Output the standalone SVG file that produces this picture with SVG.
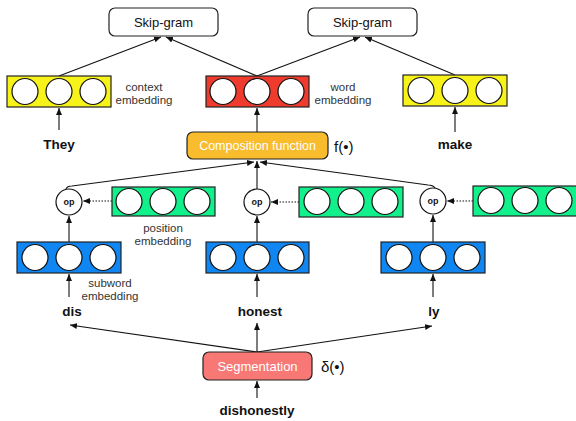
<svg xmlns="http://www.w3.org/2000/svg" width="576" height="421" viewBox="0 0 576 421">
<defs>
<style>
.box{stroke:#222;stroke-width:1.2}
.c{fill:#fff;stroke:#111;stroke-width:1.2}
.ln{stroke:#111;stroke-width:1.1;fill:none}
.dot{stroke:#111;stroke-width:1.1;fill:none;stroke-dasharray:1.5 1.5}
.t{font-family:"Liberation Sans",Arial,sans-serif;fill:#111}
.lbl{font-size:11.5px;fill:#333;text-anchor:middle}
.word{font-size:13.5px;font-weight:bold;text-anchor:middle}
.sg{font-size:13px;text-anchor:middle}
.cf{font-size:12.5px;text-anchor:middle}
.op{font-size:9px;text-anchor:middle;font-weight:bold}
</style>
<marker id="ah" markerWidth="8" markerHeight="8" refX="7" refY="4" orient="auto" markerUnits="userSpaceOnUse">
<path d="M0,1 L7,4 L0,7 z" fill="#111"/>
</marker>
<g id="vec">
<circle class="c" cx="18" cy="15.5" r="13"/>
<circle class="c" cx="52" cy="15.5" r="13"/>
<circle class="c" cx="86" cy="15.5" r="13"/>
</g>
</defs>
<rect width="576" height="421" fill="#fff"/>

<g id="connectors">
<line class="ln" x1="59" y1="76" x2="161" y2="37" marker-end="url(#ah)"/>
<line class="ln" x1="257" y1="76" x2="166" y2="37" marker-end="url(#ah)"/>
<line class="ln" x1="257" y1="76" x2="360" y2="37" marker-end="url(#ah)"/>
<line class="ln" x1="455" y1="75" x2="365" y2="37" marker-end="url(#ah)"/>
<line class="ln" x1="59" y1="130" x2="59" y2="108" marker-end="url(#ah)"/>
<line class="ln" x1="455" y1="132" x2="455" y2="107" marker-end="url(#ah)"/>
<line class="ln" x1="257" y1="132" x2="257" y2="108" marker-end="url(#ah)"/>
<path class="ln" d="M66,189 Q67,186 72,186 L254,162" marker-end="url(#ah)"/>
<line class="ln" x1="257" y1="189" x2="257" y2="161" marker-end="url(#ah)"/>
<path class="ln" d="M435,188 Q433,185 428,185 L260,162" marker-end="url(#ah)"/>
<line class="dot" x1="112" y1="201" x2="83" y2="201" marker-end="url(#ah)"/>
<line class="dot" x1="299" y1="202" x2="271" y2="202" marker-end="url(#ah)"/>
<line class="dot" x1="473" y1="201" x2="447" y2="201" marker-end="url(#ah)"/>
<line class="ln" x1="69" y1="242" x2="69" y2="216" marker-end="url(#ah)"/>
<line class="ln" x1="257" y1="242" x2="257" y2="216" marker-end="url(#ah)"/>
<line class="ln" x1="433" y1="242" x2="433" y2="215" marker-end="url(#ah)"/>
<line class="ln" x1="69" y1="297" x2="69" y2="274" marker-end="url(#ah)"/>
<line class="ln" x1="257" y1="297" x2="257" y2="274" marker-end="url(#ah)"/>
<line class="ln" x1="433" y1="297" x2="433" y2="274" marker-end="url(#ah)"/>
<line class="ln" x1="257" y1="352" x2="70" y2="325" marker-end="url(#ah)"/>
<line class="ln" x1="257" y1="352" x2="257" y2="323" marker-end="url(#ah)"/>
<line class="ln" x1="257" y1="352" x2="432" y2="326" marker-end="url(#ah)"/>
<line class="ln" x1="257" y1="398" x2="257" y2="381" marker-end="url(#ah)"/>
</g>

<g id="skipgram1">
<rect x="109" y="8" width="109" height="28" rx="6" fill="#fff" class="box"/>
<text class="t sg" x="163.5" y="26.5">Skip-gram</text>
</g>
<g id="skipgram2">
<rect x="308" y="8" width="109" height="28" rx="6" fill="#fff" class="box"/>
<text class="t sg" x="362.5" y="26.5">Skip-gram</text>
</g>

<g id="ctx-they">
<rect x="7" y="76" width="104" height="31" fill="#F7F21A" class="box"/>
<use href="#vec" x="7" y="76"/>
</g>
<g id="word-emb">
<rect x="206" y="76" width="103" height="31" fill="#EE3B2E" class="box"/>
<use href="#vec" x="205" y="76"/>
</g>
<g id="ctx-make">
<rect x="403" y="75" width="104" height="31" fill="#F7F21A" class="box"/>
<use href="#vec" x="403" y="75"/>
</g>
<g id="lbl-context">
<text class="t lbl" x="144" y="91">context</text>
<text class="t lbl" x="144" y="104">embedding</text>
</g>
<g id="lbl-word">
<text class="t lbl" x="343" y="91">word</text>
<text class="t lbl" x="343" y="104">embedding</text>
</g>
<g id="they"><text class="t word" x="59" y="149">They</text></g>
<g id="make"><text class="t word" x="455" y="149">make</text></g>

<g id="composition">
<rect x="187" y="132" width="141" height="27" rx="6" fill="#F8BC2C" class="box"/>
<text class="t cf" x="257.5" y="150" style="fill:#fff">Composition function</text>
<text class="t" x="334" y="152" font-size="15">f(•)</text>
</g>

<g id="op1">
<circle cx="69" cy="202" r="13" fill="#fff" stroke="#111" stroke-width="1.2"/>
<text class="t op" x="69" y="205">op</text>
</g>
<g id="op2">
<circle cx="257" cy="202" r="13" fill="#fff" stroke="#111" stroke-width="1.2"/>
<text class="t op" x="257" y="205">op</text>
</g>
<g id="op3">
<circle cx="433" cy="201" r="13" fill="#fff" stroke="#111" stroke-width="1.2"/>
<text class="t op" x="433" y="204">op</text>
</g>

<g id="pos1">
<rect x="112" y="187" width="103" height="29" fill="#12F08C" class="box"/>
<use href="#vec" x="111" y="186"/>
</g>
<g id="pos2">
<rect x="299" y="187" width="104" height="30" fill="#12F08C" class="box"/>
<use href="#vec" x="299" y="186"/>
</g>
<g id="pos3">
<rect x="473" y="186" width="105" height="30" fill="#12F08C" class="box"/>
<use href="#vec" x="473" y="185"/>
</g>
<g id="lbl-position">
<text class="t lbl" x="163" y="232">position</text>
<text class="t lbl" x="163" y="245">embedding</text>
</g>

<g id="sub1">
<rect x="17" y="242" width="104" height="31" fill="#0F86F2" class="box"/>
<use href="#vec" x="17" y="242"/>
</g>
<g id="sub2">
<rect x="206" y="242" width="103" height="31" fill="#0F86F2" class="box"/>
<use href="#vec" x="205" y="242"/>
</g>
<g id="sub3">
<rect x="381" y="242" width="104" height="31" fill="#0F86F2" class="box"/>
<use href="#vec" x="381" y="242"/>
</g>
<g id="lbl-subword">
<text class="t lbl" x="110" y="287">subword</text>
<text class="t lbl" x="110" y="300">embedding</text>
</g>

<g id="dis"><text class="t word" x="72" y="316">dis</text></g>
<g id="honest"><text class="t word" x="260" y="316">honest</text></g>
<g id="ly"><text class="t word" x="434" y="316">ly</text></g>

<g id="segmentation">
<rect x="203" y="352" width="109" height="28" rx="6" fill="#F77875" class="box"/>
<text class="t sg" x="257.5" y="370.5" style="fill:#fff">Segmentation</text>
<text class="t" x="321" y="372" font-size="15">δ(•)</text>
</g>
<g id="dishonestly"><text class="t word" x="257" y="415">dishonestly</text></g>
</svg>
